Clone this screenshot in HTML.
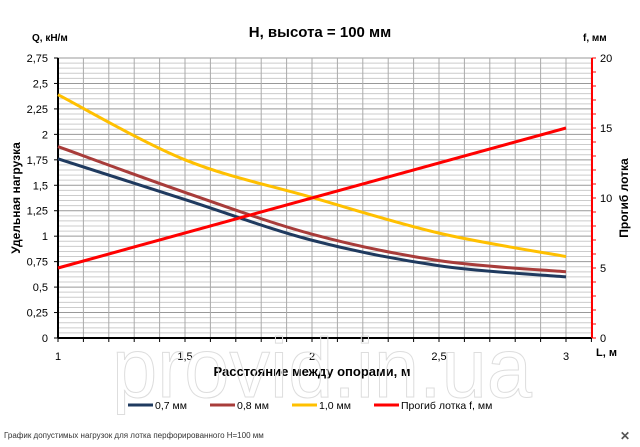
<!DOCTYPE html>
<html><head><meta charset="utf-8"><style>
body{margin:0;background:#fff;width:640px;height:442px;overflow:hidden;font-family:"Liberation Sans",sans-serif}
</style></head><body>
<svg id="s" width="640" height="442" xmlns="http://www.w3.org/2000/svg" font-family="Liberation Sans, sans-serif">
<g id="grid"></g>
<text x="320" y="37" font-size="15" font-weight="bold" text-anchor="middle">H, высота = 100 мм</text>
<text x="32" y="41" font-size="10" font-weight="bold">Q, кН/м</text>
<text x="583" y="41" font-size="10" font-weight="bold">f, мм</text>
<text transform="translate(20,198) rotate(-90)" font-size="12" font-weight="bold" text-anchor="middle">Удельная нагрузка</text>
<text transform="translate(628,198) rotate(-90)" font-size="12" font-weight="bold" text-anchor="middle">Прогиб лотка</text>
<text x="312" y="376" font-size="13" font-weight="bold" text-anchor="middle">Расстояние между опорами, м</text>
<text x="596" y="356" font-size="11" font-weight="bold">L, м</text>
<g font-size="10.5">
<line x1="128" y1="405" x2="153" y2="405" stroke="#1f3a5f" stroke-width="3"/><text x="155" y="409">0,7 мм</text>
<line x1="210" y1="405" x2="235" y2="405" stroke="#a83c3a" stroke-width="3"/><text x="237" y="409">0,8 мм</text>
<line x1="292" y1="405" x2="317" y2="405" stroke="#ffc000" stroke-width="3"/><text x="319" y="409">1,0 мм</text>
<line x1="374" y1="405" x2="399" y2="405" stroke="#ff0000" stroke-width="3"/><text x="401" y="409">Прогиб лотка f, мм</text>
</g>
<text x="4" y="438" font-size="8" fill="#333">График допустимых нагрузок для лотка перфорированного H=100 мм</text>
<text x="620" y="440" font-size="12" fill="#555" font-weight="bold">✕</text>
<text x="322" y="397" font-size="84" fill="none" stroke="#ddd" stroke-width="1" text-anchor="middle" textLength="420" lengthAdjust="spacingAndGlyphs">provid.in.ua</text>
</svg>
<script>
const g=document.getElementById('grid');
const X=L=>58+(L-1)*254, Y=q=>338-q/2.75*280, YR=f=>338-f/20*280;
let h='';
for(let i=0;i<=55;i++){const y=Y(i*0.05);h+=`<line x1="58" x2="592" y1="${y}" y2="${y}" stroke="${i%5==0?'#999':'#ccc'}" stroke-width="1"/>`;}
for(let i=1;i<=21;i++){const x=X(1+i*0.1);h+=`<line x1="${x}" x2="${x}" y1="58" y2="338" stroke="#aaa" stroke-width="1"/>`;}
h+=`<line x1="58" x2="58" y1="58" y2="338" stroke="#000" stroke-width="2"/>`;
h+=`<line x1="58" x2="592" y1="338" y2="338" stroke="#000" stroke-width="2"/>`;
h+=`<line x1="592" x2="592" y1="58" y2="338" stroke="#f00" stroke-width="2"/>`;
for(let i=0;i<=11;i++){const y=Y(i*0.25);h+=`<line x1="54" x2="58" y1="${y}" y2="${y}" stroke="#000"/><text x="48" y="${y+4}" font-size="11" text-anchor="end">${(i*0.25).toString().replace('.',',')}</text>`;}
for(let i=0;i<=20;i++){const y=YR(i);h+=`<line x1="592" x2="596" y1="${y}" y2="${y}" stroke="#f00"/>`;if(i%5==0)h+=`<text x="600" y="${y+4}" font-size="11">${i}</text>`;}
for(let i=0;i<=21;i++){const x=X(1+i*0.1);h+=`<line x1="${x}" x2="${x}" y1="338" y2="342" stroke="#000"/>`;}
[1,1.5,2,2.5,3].forEach(v=>{h+=`<text x="${X(v)}" y="360" font-size="11" text-anchor="middle">${v.toString().replace('.',',')}</text>`;});
function curve(pts,c){let d='';const p=pts.map((q,i)=>[X(1+i*0.5),Y(q)]);d='M'+p[0];for(let i=0;i<p.length-1;i++){const p0=p[i-1]||p[i],p1=p[i],p2=p[i+1],p3=p[i+2]||p2;d+=` C${p1[0]+(p2[0]-p0[0])/6},${p1[1]+(p2[1]-p0[1])/6} ${p2[0]-(p3[0]-p1[0])/6},${p2[1]-(p3[1]-p1[1])/6} ${p2}`;}h+=`<path d="${d}" fill="none" stroke="${c}" stroke-width="3"/>`;}
curve([1.76,1.36,0.96,0.71,0.60],'#1f3a5f');
curve([1.88,1.43,1.02,0.76,0.65],'#a83c3a');
curve([2.39,1.75,1.38,1.03,0.80],'#ffc000');
h+=`<line x1="${X(1)}" y1="${YR(5)}" x2="${X(3)}" y2="${YR(15)}" stroke="#f00" stroke-width="3"/>`;
g.innerHTML=h;
</script>
</body></html>
